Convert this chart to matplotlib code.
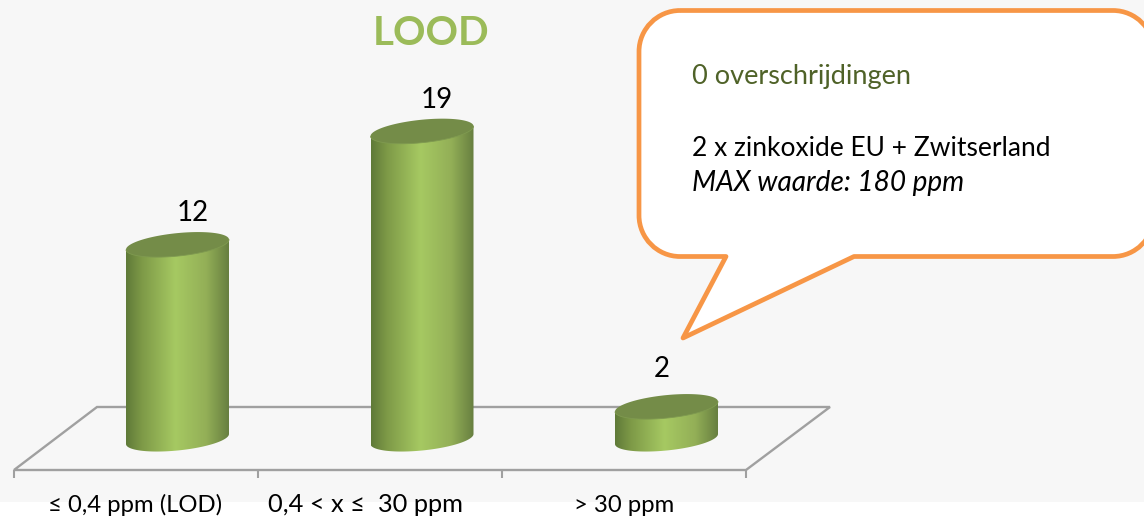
import numpy as np
import matplotlib
matplotlib.use("Agg")
import matplotlib.pyplot as plt
from matplotlib.colors import LinearSegmentedColormap
from matplotlib.patches import PathPatch, Polygon, Rectangle
from matplotlib.path import Path

plt.rcParams['font.family'] = ['Lato', 'DejaVu Sans']

# data
categories = ["≤ 0,4 ppm (LOD)", "0,4 < x ≤  30 ppm", "> 30 ppm"]
values = [12, 19, 2]
title = "LOOD"
note_green = "0 overschrijdingen"
note_black = "2 x zinkoxide EU + Zwitserland"
note_italic = "MAX waarde: 180 ppm"

W, H = 1144, 517
fig = plt.figure(figsize=(W / 100, H / 100), dpi=100, facecolor="white")

# background layer in pixel coordinates
bg = fig.add_axes([0, 0, 1, 1], zorder=1)
bg.set_xlim(0, W)
bg.set_ylim(H, 0)
bg.axis("off")
bg.add_patch(Rectangle((0, 0), W, 502, fc="#f7f7f7", ec="none"))

# floor of the 3D chart
grey = "#a0a0a0"
floor = Polygon([(14, 470), (97, 407), (830, 407), (746, 470)], closed=True,
                fc="none", ec=grey, lw=1.7)
bg.add_patch(floor)
for tx in [14, 258, 502, 746]:
    bg.plot([tx, tx], [470, 478], color=grey, lw=1.5, solid_capstyle="butt")

# bars on a real value scale: x = category index, y = value
px_x, px_y = 244.5, 16.2   # pixels per unit
x0_px, y0_px = 177.5, 439  # where category 0 / value 0 sit
ax = fig.add_axes([0, 0, 1, 1], zorder=2)
xlim = (-x0_px / px_x, (W - x0_px) / px_x)
ylim = ((y0_px - H) / px_y, y0_px / px_y)
ax.patch.set_alpha(0)
ax.axis("off")

side_cmap = LinearSegmentedColormap.from_list(
    "side", [(0, "#5f7a38"), (0.15, "#7d9947"), (0.48, "#a6c962"),
             (0.78, "#93af57"), (1, "#677f40")])
grad = np.linspace(0, 1, 256).reshape(1, -1)

half_w = 51.5 / px_x
tilt = 5 / px_y     # left end of the ellipse sits lower
minor = 11.5 / px_y
t = np.linspace(0, 2 * np.pi, 181)

for i, v in enumerate(values):
    ex = i + half_w * np.cos(t)
    ey = tilt * np.cos(t) + minor * np.sin(t)
    # front half of the base ellipse, from left to right
    tf = np.linspace(np.pi, 2 * np.pi, 91)
    fx = i + half_w * np.cos(tf)
    fy = tilt * np.cos(tf) + minor * np.sin(tf)
    body = np.vstack([[fx[0], v - tilt],
                      np.column_stack([fx, fy]),
                      [fx[-1], v + tilt]])
    im = ax.imshow(grad, cmap=side_cmap, aspect="auto", interpolation="bilinear",
                   extent=[i - half_w, i + half_w, -1.5, v + 1.5], zorder=3)
    clip = Polygon(body, closed=True, transform=ax.transData)
    im.set_clip_path(clip)
    ax.fill(ex, v + ey, color="#748c48", lw=0, zorder=4)
    ax.plot(ex[91:], v + ey[91:], color="#7f9a50", lw=0.6, zorder=5)

ax.set_xlim(xlim)
ax.set_ylim(ylim)

# title, value labels, category labels
bg.text(431, 45, title, color="#9bbb59", fontsize=29, fontweight="bold",
        ha="center", va="baseline")
label_x = [193, 437, 662]
label_y = [221, 108, 377]
for lx, ly, v in zip(label_x, label_y, values):
    bg.text(lx, ly, str(v), color="black", fontsize=20, ha="center", va="baseline")
cat_x = [135.5, 365, 624]
cat_size = [17.2, 18.3, 17.2]
for cx, fs, c in zip(cat_x, cat_size, categories):
    bg.text(cx, 512, c, color="black", fontsize=fs, ha="center", va="baseline")

# speech bubble
L, T, R, B, r = 639, 10.5, 1154, 256.5, 41
k = 0.45 * r
verts = [(L + r, T), (R - r, T),
         (R - k, T), (R, T + k), (R, T + r),
         (R, B - r),
         (R, B - k), (R - k, B), (R - r, B),
         (854, B), (683, 338), (726, B), (L + r, B),
         (L + k, B), (L, B - k), (L, B - r),
         (L, T + r),
         (L, T + k), (L + k, T), (L + r, T)]
codes = [Path.MOVETO, Path.LINETO,
         Path.CURVE4, Path.CURVE4, Path.CURVE4,
         Path.LINETO,
         Path.CURVE4, Path.CURVE4, Path.CURVE4,
         Path.LINETO, Path.LINETO, Path.LINETO, Path.LINETO,
         Path.CURVE4, Path.CURVE4, Path.CURVE4,
         Path.LINETO,
         Path.CURVE4, Path.CURVE4, Path.CURVE4]
bubble = PathPatch(Path(verts, codes), fc="white", ec="#f79646", lw=3.4,
                   joinstyle="round", zorder=5)
bg.add_patch(bubble)
bg.text(692, 84, note_green, color="#4f6228", fontsize=19.5, va="baseline", zorder=6)
bg.text(692, 155.5, note_black, color="black", fontsize=19, va="baseline", zorder=6)
bg.text(692, 191, note_italic, color="black", fontsize=20.2, style="italic",
        va="baseline", zorder=6)

fig.savefig("out.png", dpi=100)
